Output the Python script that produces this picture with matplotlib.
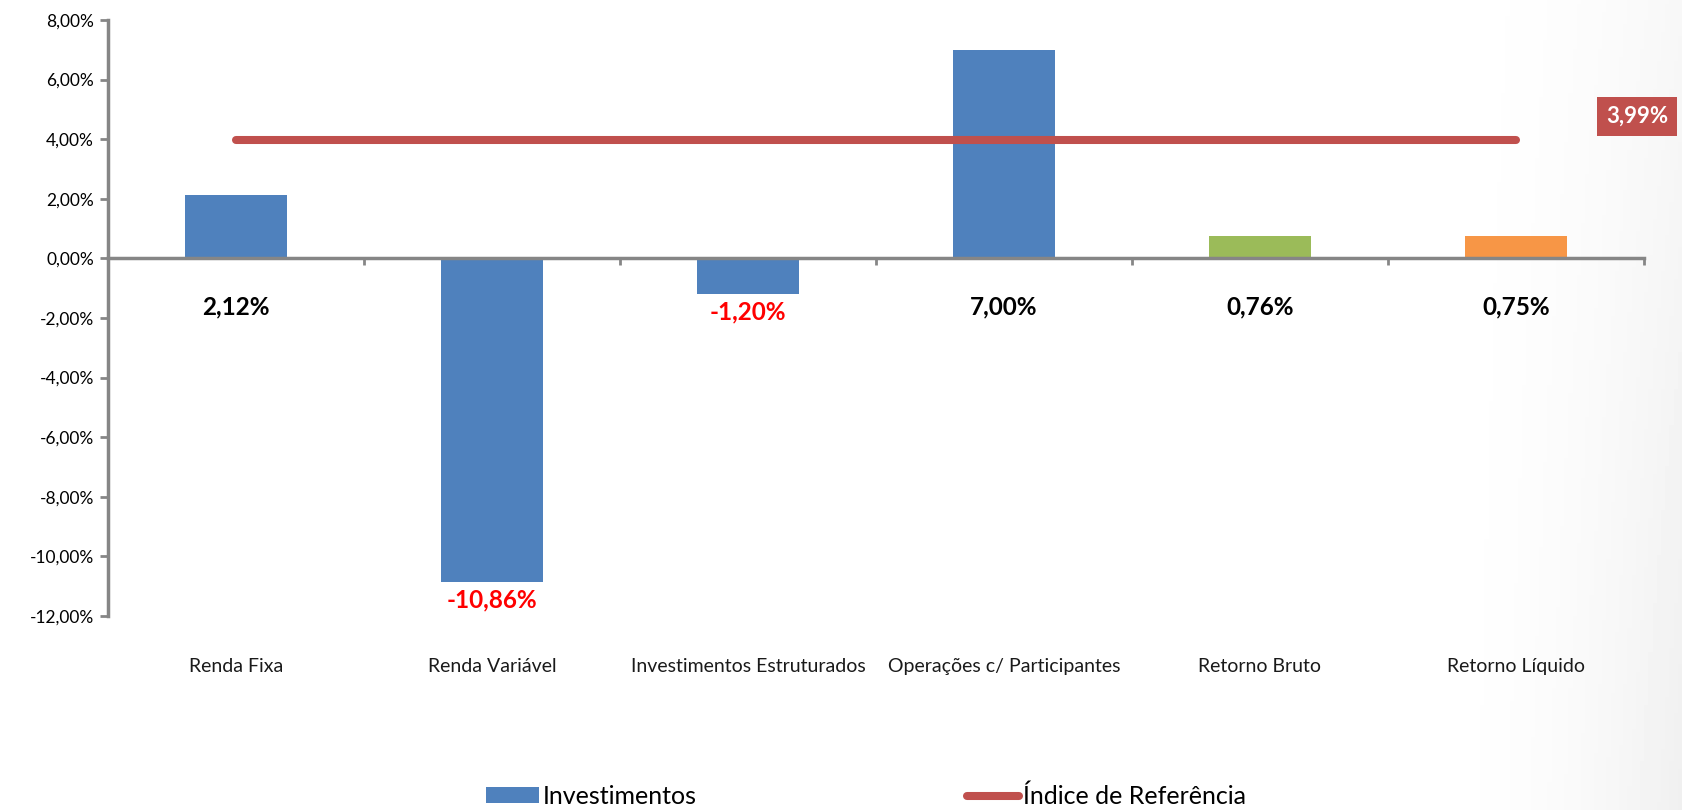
import numpy as np
import matplotlib.pyplot as plt
from matplotlib.patches import Patch
from matplotlib.lines import Line2D
from matplotlib.ticker import FuncFormatter

# data
categories = ['Renda Fixa', 'Renda Variável', 'Investimentos Estruturados',
              'Operações c/ Participantes', 'Retorno Bruto', 'Retorno Líquido']
values = [2.12, -10.86, -1.20, 7.00, 0.76, 0.75]
bar_colors = ['#4F81BD', '#4F81BD', '#4F81BD', '#4F81BD', '#9BBB59', '#F79646']
reference = 3.99
y_ticks = [-12, -10, -8, -6, -4, -2, 0, 2, 4, 6, 8]

plt.rcParams['font.family'] = ['Lato', 'DejaVu Sans']

fig = plt.figure(figsize=(16.82, 8.10), dpi=100)

# faint grey shading toward the right edge of the slide
bg = fig.add_axes([0, 0, 1, 1], zorder=-10)
gx, gy = np.meshgrid(np.linspace(0, 1, 400), np.linspace(0, 1, 200))
shade = np.clip((gx - 0.84) / 0.16, 0, 1) ** 2 * (0.5 + 0.5 * gy)
bg.imshow(1 - 0.06 * shade, cmap='gray', vmin=0, vmax=1, aspect='auto',
          extent=(0, 1, 0, 1))
bg.axis('off')

ax = fig.add_axes([0.0642, 0.2395, 0.9132, 0.7358])
ax.patch.set_alpha(0)

x = np.arange(len(categories))
ax.bar(x, values, width=0.40, color=bar_colors, zorder=2)
ax.plot(x, [reference] * len(x), color='#C0504D', lw=5.8,
        solid_capstyle='round', zorder=3)

ax.set_xlim(-0.5, len(categories) - 0.5)
ax.set_ylim(-12, 8)
ax.set_yticks(y_ticks)
ax.yaxis.set_major_formatter(FuncFormatter(lambda v, p: f'{v:.2f}%'.replace('.', ',')))
ax.tick_params(axis='y', labelsize=12.5, length=6, width=2, color='#868686', pad=4)

# x axis sits on zero, ticks at category boundaries
ax.spines['bottom'].set_position(('data', 0))
ax.set_xticks(np.arange(-0.5, len(categories), 1.0))
ax.set_xticklabels([])
ax.tick_params(axis='x', direction='out', length=5, width=2, color='#868686')
for s in ['top', 'right']:
    ax.spines[s].set_visible(False)
for s in ['left', 'bottom']:
    ax.spines[s].set_color('#868686')
    ax.spines[s].set_linewidth(2.5)

# category names
for xi, name in zip(x, categories):
    ax.text(xi, -0.084, name, transform=ax.get_xaxis_transform(),
            ha='center', va='center', fontsize=14, color='#1a1a1a')

# value labels
for xi, v in zip(x, values):
    lab = f'{v:.2f}%'.replace('.', ',')
    if v < 0:
        ax.annotate(lab, (xi, v), xytext=(0, -18), textcoords='offset pixels',
                    ha='center', va='center', fontsize=17.5, fontweight='bold',
                    color='#FF0000')
    else:
        ax.annotate(lab, (xi, 0), xytext=(0, -49), textcoords='offset pixels',
                    ha='center', va='center', fontsize=17.5, fontweight='bold',
                    color='black')

# reference value box
ax.annotate(f'{reference:.2f}%'.replace('.', ','), (x[-1], reference),
            xytext=(121, 23), textcoords='offset pixels', ha='center', va='center',
            fontsize=16, fontweight='bold', color='white',
            bbox=dict(boxstyle='square,pad=0.4', fc='#C0504D', ec='none'))

# legend
handles = [Patch(facecolor='#4F81BD', edgecolor='none'),
           Line2D([], [], color='#C0504D', lw=5.8, solid_capstyle='round')]
fig.legend(handles, ['Investimentos', 'Índice de Referência'], ncol=2,
           loc='center', bbox_to_anchor=(0.515, 0.017), frameon=False,
           prop={'family': ['Liberation Sans Narrow', 'Lato'], 'size': 18},
           handlelength=2.1, handleheight=0.6, handletextpad=0.15,
           columnspacing=10.8)

fig.savefig('out.png', dpi=100)
